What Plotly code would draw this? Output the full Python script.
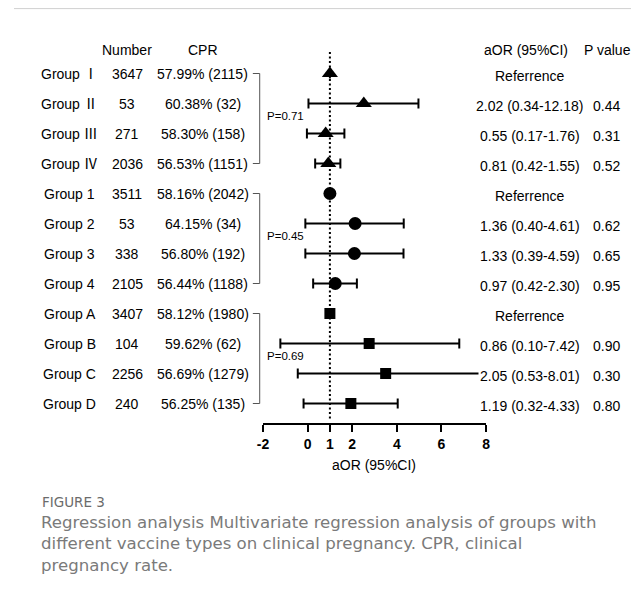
import plotly.graph_objects as go

# The page body has an 8px margin on every side; keep the figure inside the window.
OFF = 8
W, H = 643 - 2 * OFF, 605 - 2 * OFF

groups = ["Group Ⅰ", "Group Ⅱ", "Group Ⅲ", "Group Ⅳ",
          "Group 1", "Group 2", "Group 3", "Group 4",
          "Group A", "Group B", "Group C", "Group D"]
numbers = ["3647", "53", "271", "2036", "3511", "53", "338", "2105",
           "3407", "104", "2256", "240"]
cpr = ["57.99% (2115)", "60.38% (32)", "58.30% (158)", "56.53% (1151)",
       "58.16% (2042)", "64.15% (34)", "56.80% (192)", "56.44% (1188)",
       "58.12% (1980)", "59.62% (62)", "56.69% (1279)", "56.25% (135)"]
aor_text = ["Referrence", "2.02 (0.34-12.18)", "0.55 (0.17-1.76)", "0.81 (0.42-1.55)",
            "Referrence", "1.36 (0.40-4.61)", "1.33 (0.39-4.59)", "0.97 (0.42-2.30)",
            "Referrence", "0.86 (0.10-7.42)", "2.05 (0.53-8.01)", "1.19 (0.32-4.33)"]
p_values = ["", "0.44", "0.31", "0.52", "", "0.62", "0.65", "0.95",
            "", "0.90", "0.30", "0.80"]
# positions as drawn in the plot
point = [1.0, 2.52, 0.81, 0.93, 1.0, 2.13, 2.10, 1.24, 1.0, 2.76, 3.50, 1.94]
lower = [1.0, 0.04, -0.03, 0.34, 1.0, -0.10, -0.10, 0.25, 1.0, -1.22, -0.44, -0.18]
upper = [1.0, 4.97, 1.65, 1.47, 1.0, 4.31, 4.30, 2.21, 1.0, 6.80, 8.00, 4.04]
block_p = ["P=0.71", "P=0.45", "P=0.69"]
ticks = [-2, 0, 1, 2, 4, 6, 8]

FONT = "Liberation Sans, Arial, Noto Sans CJK SC, sans-serif"

ROW0, STEP = 73.5, 30.0   # window pixel of first row, row spacing
AX_Y = 423.3              # window pixel of the x axis line


def px(x):
    return (x - OFF) / W


def py(y):
    return 1 - (y - OFF) / H


def row(y):
    return (y - ROW0) / STEP


fig = go.Figure()
symbols = ["triangle-up", "circle", "square"]
sizes = [14, 13, 11]
for b in range(3):
    idx = list(range(4 * b, 4 * b + 4))
    fig.add_trace(go.Scatter(
        x=[point[i] for i in idx],
        y=idx,
        mode="markers",
        marker=dict(symbol=symbols[b], size=sizes[b], color="black"),
        error_x=dict(type="data", symmetric=False,
                     array=[upper[i] - point[i] for i in idx],
                     arrayminus=[point[i] - lower[i] for i in idx],
                     color="black", thickness=2, width=5),
        showlegend=False,
        cliponaxis=False,
    ))

ann = []


def txt(x, y, t, size=14, xref="paper", yref="y", xanchor="center", color="black", bg=None, family=FONT):
    d = dict(x=x, y=y, xref=xref, yref=yref, text=t, showarrow=False,
             xanchor=xanchor, yanchor="middle",
             font=dict(family=family, size=size, color=color))
    if bg:
        d["bgcolor"] = bg
    ann.append(d)


hy = row(50)
txt(px(123), hy, "Number")
txt(px(200), hy, "CPR")
txt(px(528), hy, "aOR (95%CI)")
txt(px(611), hy, "P value")

for i in range(12):
    txt(px(64.5), i, groups[i])
    txt(px(123), i, numbers[i])
    txt(px(200), i + 0.03, cpr[i])
    txt(px(532), i + 0.08, aor_text[i], bg="white")
    if p_values[i]:
        txt(px(610), i + 0.08, p_values[i])

shapes = []
for b in range(3):
    y0, y1 = 4 * b, 4 * b + 3
    shapes.append(dict(type="path", xref="paper", yref="y",
                       path=f"M {px(250.7)},{y0} L {px(257.7)},{y0} L {px(257.7)},{y1} L {px(250.7)},{y1}",
                       line=dict(color="#555555", width=1)))
    txt(px(263.3), 4 * b + 1.42, block_p[b], size=11.5, xanchor="left")

shapes.append(dict(type="line", xref="x", yref="y", x0=1, x1=1, y0=row(52), y1=row(421),
                   line=dict(color="black", width=2, dash="2px,2.5px"), layer="below"))

# top frame line
shapes.append(dict(type="line", xref="paper", yref="paper", x0=0, x1=1, y0=py(8.6), y1=py(8.6),
                   line=dict(color="#d0d0d0", width=1)))

txt(px(374), py(465), "aOR (95%CI)", size=14, yref="paper")

cap_font = "DejaVu Sans, Open Sans, sans-serif"
ann.append(dict(x=px(34), y=py(501.7), xref="paper", yref="paper", text="FIGURE 3",
                showarrow=False, xanchor="left", yanchor="middle",
                font=dict(family=cap_font, size=13.5, color="#6b6b6b")))
caption = ["Regression analysis Multivariate regression analysis of groups with",
           "different vaccine types on clinical pregnancy. CPR, clinical",
           "pregnancy rate."]
for k, line in enumerate(caption):
    ann.append(dict(x=px(33), y=py(522 + 21.5 * k), xref="paper", yref="paper", text=line,
                    showarrow=False, xanchor="left", yanchor="middle",
                    font=dict(family=cap_font, size=16.6, color="#7a7a7a")))

fig.update_layout(
    width=W, height=H,
    margin=dict(l=0, r=0, t=0, b=0),
    plot_bgcolor="white", paper_bgcolor="white",
    showlegend=False,
    annotations=ann,
    shapes=shapes,
    xaxis=dict(domain=[px(261), px(487.7)], range=[-2, 8],
               tickvals=ticks, ticktext=[str(t) for t in ticks],
               ticks="outside", ticklen=7, tickwidth=2, tickcolor="black",
               showline=True, linewidth=2, linecolor="black",
               showgrid=False, zeroline=False,
               tickfont=dict(family=FONT, size=14, color="black", weight="bold")),
    yaxis=dict(domain=[1 - (AX_Y - OFF) / H, 1],
               range=[row(AX_Y), row(OFF)],
               visible=False),
)

fig.write_html("out.html")
